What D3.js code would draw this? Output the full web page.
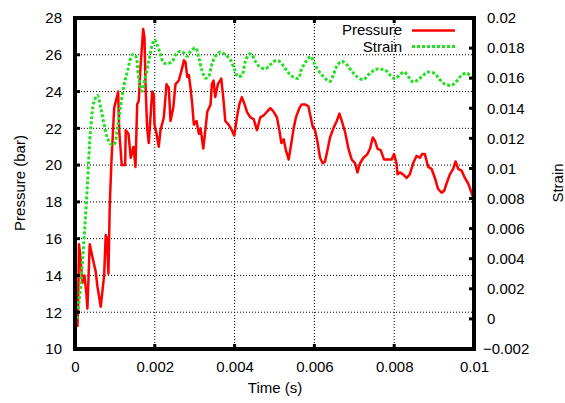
<!DOCTYPE html>
<html><head><meta charset="utf-8">
<script src="https://cdn.jsdelivr.net/npm/d3@7"></script>
<style>
html,body{margin:0;padding:0;background:#fff;}
text{font-family:"Liberation Sans",Arial,sans-serif;font-size:15px;fill:#000;}
</style></head>
<body><svg id="c" width="565" height="403"></svg>
<script>
// ---- data (time in ms) ----
const pressureTime = [0.06,0.08,0.10,0.136,0.186,0.236,0.286,0.311,0.369,0.437,0.519,0.562,0.645,0.730,0.770,0.80,0.838,0.871,0.913,0.956,0.981,1.039,1.082,1.107,1.172,1.257,1.272,1.340,1.398,1.465,1.516,1.558,1.598,1.641,1.709,1.742,1.767,1.809,1.849,1.892,1.935,1.975,1.992,2.043,2.100,2.143,2.226,2.294,2.351,2.394,2.462,2.519,2.602,2.688,2.728,2.770,2.813,2.853,2.896,2.938,2.979,3.046,3.104,3.147,3.215,3.272,3.315,3.398,3.430,3.473,3.516,3.581,3.666,3.724,3.767,3.849,3.932,3.992,4.058,4.118,4.183,4.251,4.309,4.394,4.477,4.560,4.645,4.728,4.810,4.896,4.979,5.061,5.122,5.172,5.230,5.287,5.355,5.423,5.480,5.538,5.624,5.681,5.764,5.849,5.907,5.957,6.015,6.075,6.141,6.208,6.266,6.326,6.391,6.477,6.560,6.627,6.685,6.768,6.853,6.936,7.019,7.079,7.144,7.230,7.330,7.395,7.463,7.521,7.581,7.664,7.747,7.847,7.932,7.997,8.058,8.083,8.140,8.223,8.309,8.391,8.474,8.560,8.642,8.700,8.768,8.851,8.936,9.019,9.102,9.187,9.252,9.312,9.395,9.478,9.538,9.603,9.689,9.772,9.854,9.940,9.980,10.0];
const pressureBar = [11.2,12.5,15.7,15.0,13.6,14.0,13.0,12.2,15.7,15.0,14.2,13.4,12.3,14.0,16.2,16.0,14.1,17.8,20.2,22.0,23.1,23.6,24.0,21.9,20.0,20.0,21.9,21.7,20.4,21.0,19.9,23.3,23.5,25.3,27.4,26.9,24.4,22.0,21.2,22.6,24.0,23.8,22.2,21.7,21.0,21.9,22.6,24.4,24.2,22.4,23.1,24.4,24.6,25.3,25.7,25.6,24.8,24.9,24.2,23.3,22.2,22.4,21.7,22.0,20.9,22.0,22.9,23.3,24.4,24.6,23.7,24.4,24.7,23.5,22.4,22.2,21.9,21.6,22.6,23.3,23.7,23.3,22.9,22.6,22.5,21.9,22.6,22.7,22.9,23.1,22.9,22.6,21.9,21.2,21.4,20.8,20.3,21.2,22.0,22.6,23.1,23.3,23.3,23.2,22.6,22.1,21.9,21.3,20.4,20.1,20.2,20.8,21.5,22.0,22.4,22.8,22.4,21.8,20.9,20.3,20.1,19.6,20.1,20.4,20.6,20.9,21.5,21.3,20.9,20.8,20.3,20.3,20.3,20.6,20.1,19.5,19.6,19.5,19.3,19.5,20.1,20.5,20.4,20.6,20.6,19.9,19.8,19.3,18.7,18.5,18.6,19.0,19.5,19.8,20.2,19.8,19.7,19.3,19.0,18.5,18.2,18.4];

const strainTime = [0.05,0.143,0.228,0.311,0.394,0.479,0.562,0.645,0.730,0.813,0.896,0.981,1.064,1.147,1.232,1.315,1.440,1.516,1.598,1.684,1.742,1.849,1.935,1.992,2.060,2.143,2.226,2.351,2.437,2.519,2.627,2.728,2.813,2.896,3.021,3.104,3.189,3.272,3.348,3.430,3.516,3.641,3.767,3.892,4.0,4.083,4.183,4.268,4.369,4.434,4.519,4.645,4.770,4.896,5.021,5.122,5.230,5.355,5.480,5.606,5.656,5.764,5.849,5.907,5.975,6.058,6.183,6.309,6.391,6.477,6.560,6.685,6.810,6.936,7.061,7.230,7.355,7.481,7.606,7.714,7.814,7.889,8.015,8.140,8.248,8.349,8.474,8.600,8.725,8.851,9.019,9.144,9.270,9.438,9.563,9.689,9.814,9.922,10.0];
const strainValue = [0.0000,0.00227,0.00538,0.00892,0.01269,0.01446,0.01486,0.01402,0.01291,0.01202,0.01162,0.0116,0.0127,0.01424,0.01557,0.01646,0.01756,0.0175,0.0160,0.01513,0.0158,0.01714,0.01823,0.01856,0.01823,0.01756,0.01701,0.0170,0.0171,0.01756,0.01778,0.01767,0.01745,0.01778,0.01801,0.01734,0.01646,0.0160,0.01612,0.0169,0.01745,0.01774,0.01756,0.01723,0.01657,0.01612,0.0162,0.01712,0.01761,0.01756,0.01712,0.01672,0.01663,0.0169,0.01716,0.01712,0.01679,0.01634,0.01606,0.0160,0.01646,0.01701,0.01734,0.01745,0.01712,0.01668,0.01623,0.0159,0.01579,0.01623,0.01679,0.01712,0.0169,0.01646,0.01612,0.0159,0.01623,0.0165,0.01663,0.01657,0.01646,0.01623,0.01597,0.01623,0.01641,0.01612,0.01575,0.0159,0.01619,0.01641,0.0163,0.0159,0.01561,0.01553,0.01579,0.01619,0.01634,0.01612,0.0159];

const xTicks = [0,0.002,0.004,0.006,0.008,0.01];
const xTickLabels = ["0","0.002","0.004","0.006","0.008","0.01"];
const yLeftTicks = [10,12,14,16,18,20,22,24,26,28];
const yRightTicks = [-0.002,0,0.002,0.004,0.006,0.008,0.01,0.012,0.014,0.016,0.018,0.02];
const yRightTickLabels = ["\u22120.002","0","0.002","0.004","0.006","0.008","0.01","0.012","0.014","0.016","0.018","0.02"];
const seriesNames = ["Pressure","Strain"];

// ---- layout ----
const L=75, R=474, T=18, B=349;
const svg = d3.select("#c");
const x = d3.scaleLinear([0,0.01],[L,R]);
const yL = d3.scaleLinear([10,28],[B,T]);
const yR = d3.scaleLinear([-0.002,0.02],[B,T]);

// grid
const grid = svg.append("g").attr("stroke","#000").attr("stroke-width",1).attr("stroke-dasharray","1,2");
xTicks.slice(1,-1).forEach(v=>grid.append("line").attr("x1",x(v)).attr("x2",x(v)).attr("y1",T).attr("y2",B));
yLeftTicks.slice(1,-1).forEach(v=>grid.append("line").attr("x1",L).attr("x2",R).attr("y1",yL(v)).attr("y2",yL(v)));

// axes labels through d3 axes
const fmtX = (d,i)=>xTickLabels[i];
const ax = svg.append("g").attr("transform",`translate(0,${B})`)
  .call(d3.axisBottom(x).tickValues(xTicks).tickFormat(fmtX).tickSize(0).tickPadding(12));
const ayl = svg.append("g").attr("transform",`translate(${L},0)`)
  .call(d3.axisLeft(yL).tickValues(yLeftTicks).tickFormat(d=>String(d)).tickSize(0).tickPadding(13));
const ayr = svg.append("g").attr("transform",`translate(${R},0)`)
  .call(d3.axisRight(yR).tickValues(yRightTicks).tickFormat((d,i)=>yRightTickLabels[i]).tickSize(0).tickPadding(13));
[ax,ayl,ayr].forEach(g=>{g.select(".domain").remove(); g.selectAll("text").attr("font-family",null).attr("font-size",null).style("font-size","15px").style("font-family","'Liberation Sans',Arial,sans-serif");});
ayr.selectAll(".tick text").filter((d)=>d<0).attr("dx",-4);

// clip
svg.append("clipPath").attr("id","clip").append("rect").attr("x",L).attr("y",T).attr("width",R-L).attr("height",B-T);

// lines
const pData = pressureTime.map((t,i)=>[t/1000,pressureBar[i]]);
const sData = strainTime.map((t,i)=>[t/1000,strainValue[i]]);
svg.append("path").datum(pData).attr("clip-path","url(#clip)")
  .attr("d",d3.line().x(d=>x(d[0])).y(d=>yL(d[1])))
  .attr("fill","none").attr("stroke","#ff0000").attr("stroke-width",2.5).attr("stroke-linejoin","round");
svg.append("path").datum(sData).attr("clip-path","url(#clip)")
  .attr("d",d3.line().curve(d3.curveCatmullRom).x(d=>x(d[0])).y(d=>yR(d[1])))
  .attr("fill","none").attr("stroke","#22e022").attr("stroke-width",3).attr("stroke-dasharray","3,2");

// tick marks (inward)
const tk = svg.append("g").attr("stroke","#000").attr("stroke-width",3);
xTicks.slice(1,-1).forEach(v=>{
  tk.append("line").attr("x1",x(v)).attr("x2",x(v)).attr("y1",B).attr("y2",B-5);
  tk.append("line").attr("x1",x(v)).attr("x2",x(v)).attr("y1",T).attr("y2",T+5);
});
yLeftTicks.slice(1,-1).forEach(v=>tk.append("line").attr("x1",L).attr("x2",L+5).attr("y1",yL(v)).attr("y2",yL(v)));
yRightTicks.slice(1,-1).forEach(v=>tk.append("line").attr("x1",R).attr("x2",R-5).attr("y1",yR(v)).attr("y2",yR(v)));

// frame
svg.append("rect").attr("x",L).attr("y",T).attr("width",R-L).attr("height",B-T)
  .attr("fill","none").attr("stroke","#000").attr("stroke-width",4);

// legend
const lg = svg.append("g");
lg.append("text").attr("x",402).attr("y",35).attr("text-anchor","end").text(seriesNames[0]);
lg.append("text").attr("x",402).attr("y",52).attr("text-anchor","end").text(seriesNames[1]);
lg.append("line").attr("x1",412).attr("x2",455).attr("y1",30.5).attr("y2",30.5).attr("stroke","#ff0000").attr("stroke-width",2.5);
lg.append("line").attr("x1",412).attr("x2",455).attr("y1",46.5).attr("y2",46.5).attr("stroke","#22e022").attr("stroke-width",3).attr("stroke-dasharray","3,2");

// axis titles
svg.append("text").attr("x",275).attr("y",393).attr("text-anchor","middle").text("Time (s)");
svg.append("text").attr("transform","translate(25,183) rotate(-90)").attr("text-anchor","middle").text("Pressure (bar)");
svg.append("text").attr("transform","translate(563,183) rotate(-90)").attr("text-anchor","middle").text("Strain");
</script></body></html>
